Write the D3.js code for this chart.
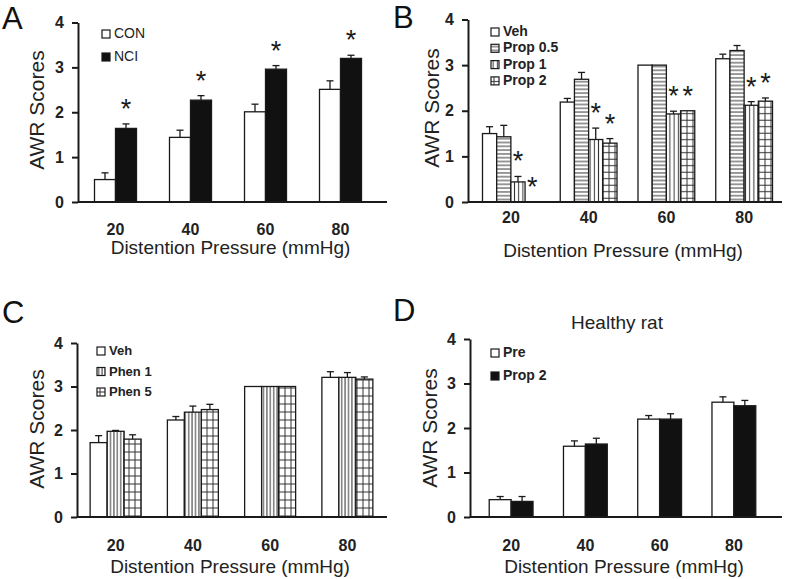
<!DOCTYPE html>
<html>
<head>
<meta charset="utf-8">
<script src="https://cdn.jsdelivr.net/npm/d3@7"></script>
<style>
  body { margin: 0; background: #fff; }
  svg { display: block; font-family: "Liberation Sans", Arial, sans-serif; }
</style>
</head>
<body>
<svg id="chart" width="787" height="579"></svg>
<script>
const pressures = ['20', '40', '60', '80'];
const yTicks = [0, 1, 2, 3, 4];

// A
const conMean = [0.5, 1.44, 2.01, 2.51];
const conErr = [0.15, 0.16, 0.17, 0.19];
const nciMean = [1.64, 2.27, 2.96, 3.2];
const nciErr = [0.1, 0.1, 0.08, 0.07];
const nciSig = [true, true, true, true];

// B
const vehBMean = [1.5, 2.19, 3.0, 3.14];
const vehBErr = [0.15, 0.08, 0, 0.1];
const prop05Mean = [1.43, 2.69, 3.0, 3.32];
const prop05Err = [0.25, 0.15, 0, 0.11];
const prop1Mean = [0.44, 1.37, 1.93, 2.12];
const prop1Err = [0.12, 0.25, 0.06, 0.08];
const prop2Mean = [0, 1.29, 2.0, 2.21];
const prop2Err = [0, 0.1, 0, 0.07];
const prop1Sig = [true, true, true, true];
const prop2Sig = [true, true, true, true];

// C
const vehCMean = [1.71, 2.23, 3.0, 3.21];
const vehCErr = [0.16, 0.08, 0, 0.13];
const phen1Mean = [1.97, 2.41, 3.0, 3.21];
const phen1Err = [0.02, 0.14, 0, 0.11];
const phen5Mean = [1.79, 2.47, 3.0, 3.17];
const phen5Err = [0.1, 0.12, 0, 0.05];

// D
const preMean = [0.39, 1.59, 2.2, 2.58];
const preErr = [0.07, 0.12, 0.08, 0.12];
const propDMean = [0.35, 1.64, 2.2, 2.5];
const propDErr = [0.11, 0.13, 0.12, 0.12];

const ink = '#1a1a1a';
const svg = d3.select('#chart');
const defs = svg.append('defs');

const makePattern = (id, w, h, lines) => {
  const p = defs.append('pattern')
    .attr('id', id)
    .attr('patternUnits', 'userSpaceOnUse')
    .attr('width', w)
    .attr('height', h);
  p.append('rect').attr('width', w).attr('height', h).attr('fill', '#fff');
  lines.forEach((l) => {
    p.append('line')
      .attr('x1', l[0]).attr('y1', l[1]).attr('x2', l[2]).attr('y2', l[3])
      .attr('stroke', '#333').attr('stroke-width', 1);
  });
};

makePattern('hstripe', 4, 3.8, [[0, 1.9, 4, 1.9]]);
makePattern('vstripe', 4.2, 4, [[2.1, 0, 2.1, 4]]);
makePattern('vstripeC', 3.4, 4, [[1.7, 0, 1.7, 4]]);
makePattern('grid', 6, 6.5, [[3, 0, 3, 6.5], [0, 3.2, 6, 3.2]]);
makePattern('gridC', 6, 8, [[3, 0, 3, 8], [0, 4, 6, 4]]);

const series = (name, mean, err, fill, sig) => ({ name, mean, err, fill, sig });

const drawPanel = (p) => {
  const g = svg.append('g');
  const y = d3.scaleLinear().domain([0, 4]).range([p.yBottom, p.yTop]);
  const x0 = d3.scaleBand().domain(pressures).range(p.groupRange).paddingInner(p.pad).paddingOuter(p.pad / 2);
  const x1 = d3.scaleBand().domain(p.series.map(s => s.name)).range([0, x0.bandwidth()]);

  // bars
  p.series.forEach((s) => {
    const sg = g.append('g');
    const rows = pressures.map((c, i) => ({ c, v: s.mean[i], e: s.err[i], sig: s.sig ? s.sig[i] : false }));
    sg.selectAll('rect')
      .data(rows.filter(d => d.v > 0))
      .enter()
      .append('rect')
      .attr('x', d => x0(d.c) + x1(s.name))
      .attr('y', d => y(d.v))
      .attr('width', x1.bandwidth())
      .attr('height', d => y(0) - y(d.v))
      .attr('fill', s.fill)
      .attr('stroke', ink)
      .attr('stroke-width', 1.3);

    const cx = d => x0(d.c) + x1(s.name) + x1.bandwidth() / 2;
    const eb = sg.selectAll('g.err')
      .data(rows.filter(d => d.e > 0))
      .enter()
      .append('g')
      .attr('class', 'err')
      .attr('stroke', ink)
      .attr('stroke-width', 1.3);
    eb.append('line')
      .attr('x1', cx).attr('x2', cx)
      .attr('y1', d => y(d.v)).attr('y2', d => y(d.v + d.e));
    eb.append('line')
      .attr('x1', d => cx(d) - 3.5).attr('x2', d => cx(d) + 3.5)
      .attr('y1', d => y(d.v + d.e)).attr('y2', d => y(d.v + d.e));

    sg.selectAll('text.star')
      .data(rows.filter(d => d.sig))
      .enter()
      .append('text')
      .attr('class', 'star')
      .attr('x', cx)
      .attr('y', d => y(d.v + d.e) - 6)
      .attr('text-anchor', 'middle')
      .attr('font-size', 27)
      .attr('fill', ink)
      .text('*');
  });

  // x axis line
  g.append('line')
    .attr('x1', p.axisX).attr('x2', p.axisEnd)
    .attr('y1', y(0)).attr('y2', y(0))
    .attr('stroke', ink).attr('stroke-width', 2);

  // y axis
  const ya = g.append('g')
    .attr('transform', `translate(${p.axisX},0)`)
    .call(d3.axisLeft(y).tickValues(yTicks).tickFormat(d3.format('d')).tickSize(6).tickSizeOuter(0).tickPadding(8));
  ya.select('.domain').attr('stroke', ink).attr('stroke-width', 2);
  ya.selectAll('.tick line').attr('stroke', ink).attr('stroke-width', 2);
  ya.selectAll('.tick text')
    .attr('font-size', 16).attr('font-weight', 'bold').attr('fill', '#222')
    .attr('font-family', '"Liberation Sans", Arial, sans-serif');

  // x labels
  const xa = g.append('g')
    .attr('transform', `translate(0,${p.labelY})`)
    .call(d3.axisBottom(x0).tickSize(0).tickPadding(0));
  xa.select('.domain').remove();
  xa.selectAll('.tick text')
    .attr('dy', 0).attr('y', 0)
    .attr('font-size', 16).attr('font-weight', 'bold').attr('fill', '#222')
    .attr('font-family', '"Liberation Sans", Arial, sans-serif');

  g.append('text')
    .attr('x', (p.axisX + p.axisEnd) / 2 - 2)
    .attr('y', p.titleY)
    .attr('text-anchor', 'middle')
    .attr('font-size', 19)
    .attr('fill', '#222')
    .text('Distention Pressure (mmHg)');

  g.append('text')
    .attr('transform', `translate(${p.yTitleX},${p.yTitleY}) rotate(-90)`)
    .attr('text-anchor', 'middle')
    .attr('font-size', 21)
    .attr('fill', '#222')
    .text('AWR Scores');

  g.append('text')
    .attr('x', p.letterX).attr('y', p.letterY)
    .attr('font-size', 31)
    .attr('fill', '#111')
    .text(p.letter);

  // legend
  const lg = g.append('g').attr('transform', `translate(${p.legX},${p.legY})`);
  const items = lg.selectAll('g')
    .data(p.series)
    .enter()
    .append('g')
    .attr('transform', (d, i) => `translate(0,${i * p.legStep})`);
  items.append('rect')
    .attr('x', 0).attr('y', -8)
    .attr('width', 8).attr('height', 8)
    .attr('fill', d => d.fill)
    .attr('stroke', ink).attr('stroke-width', 1.2);
  items.append('text')
    .attr('x', 12).attr('y', 0)
    .attr('font-size', p.legFont)
    .attr('font-weight', p.legWeight)
    .attr('fill', '#222')
    .text(d => d.name);

  return g;
};

drawPanel({
  letter: 'A', letterX: 2, letterY: 29,
  yTop: 22.5, yBottom: 202, axisX: 78, axisEnd: 387,
  groupRange: [78, 378], pad: 0.44,
  labelY: 235, titleY: 254, yTitleX: 44, yTitleY: 110,
  legX: 102, legY: 38, legStep: 23, legFont: 14, legWeight: 'normal',
  series: [
    series('CON', conMean, conErr, '#fff'),
    series('NCI', nciMean, nciErr, '#111', nciSig)
  ]
});

drawPanel({
  letter: 'B', letterX: 393, letterY: 28,
  yTop: 19.5, yBottom: 202, axisX: 468, axisEnd: 782,
  groupRange: [472, 783], pad: 0.27,
  labelY: 223, titleY: 257, yTitleX: 439, yTitleY: 108,
  legX: 491, legY: 36, legStep: 16.3, legFont: 14, legWeight: 'bold',
  series: [
    series('Veh', vehBMean, vehBErr, '#fff'),
    series('Prop 0.5', prop05Mean, prop05Err, 'url(#hstripe)'),
    series('Prop 1', prop1Mean, prop1Err, 'url(#vstripe)', prop1Sig),
    series('Prop 2', prop2Mean, prop2Err, 'url(#grid)', prop2Sig)
  ]
});

drawPanel({
  letter: 'C', letterX: 2, letterY: 323,
  yTop: 343, yBottom: 517, axisX: 77, axisEnd: 387,
  groupRange: [77, 386], pad: 0.34,
  labelY: 551, titleY: 573, yTitleX: 44, yTitleY: 429,
  legX: 97, legY: 355, legStep: 20.5, legFont: 13, legWeight: 'bold',
  series: [
    series('Veh', vehCMean, vehCErr, '#fff'),
    series('Phen 1', phen1Mean, phen1Err, 'url(#vstripeC)'),
    series('Phen 5', phen5Mean, phen5Err, 'url(#gridC)')
  ]
});

drawPanel({
  letter: 'D', letterX: 393, letterY: 321,
  yTop: 339, yBottom: 517, axisX: 470, axisEnd: 782,
  groupRange: [474, 771], pad: 0.41,
  labelY: 551, titleY: 573, yTitleX: 437, yTitleY: 428,
  legX: 491, legY: 357, legStep: 23, legFont: 14, legWeight: 'bold',
  series: [
    series('Pre', preMean, preErr, '#fff'),
    series('Prop 2', propDMean, propDErr, '#111')
  ]
});

svg.append('text')
  .attr('x', 617).attr('y', 329)
  .attr('text-anchor', 'middle')
  .attr('font-size', 19)
  .attr('fill', '#222')
  .text('Healthy rat');
</script>
</body>
</html>
